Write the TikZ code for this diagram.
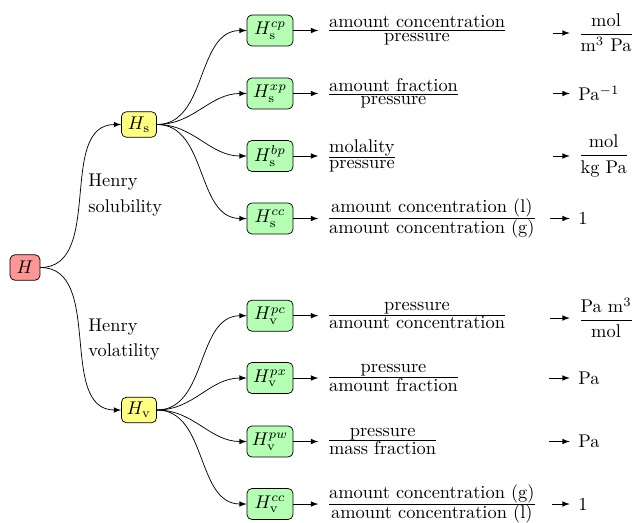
\documentclass[tikz,border=0pt]{standalone}
\usetikzlibrary{arrows}
\definecolor{hred}{RGB}{255,150,150}
\definecolor{hyel}{RGB}{255,255,130}
\definecolor{hgrn}{RGB}{180,255,180}
\tikzset{
  box/.style={draw, rounded corners=2.6pt, inner sep=2.5pt},
  rootbox/.style={box, fill=hred, minimum width=16.3pt, minimum height=13.8pt},
  midbox/.style={box, fill=hyel, minimum width=19pt, minimum height=13.8pt},
  leafbox/.style={box, fill=hgrn, minimum width=25pt, minimum height=16.8pt},
  frac/.style={anchor=west, inner sep=3pt},
  unit/.style={anchor=west, inner sep=0pt},
  lab/.style={anchor=west, align=left, inner sep=0pt},
  conn/.style={-latex, out=0, in=180},
  arr/.style={-latex},
}
\newcommand{\fr}[2]{$\frac{\mbox{#1}}{\mbox{#2}}$}
\newcommand{\dfr}[2]{$\displaystyle\frac{\mbox{#1}}{\mbox{#2}}$}
\begin{document}
\begin{tikzpicture}[x=0.5435pt, y=-0.5435pt]
\useasboundingbox (0,0) rectangle (633,522);
% main nodes
\node[rootbox] (H) at (25,267.5) {$H$};
\node[midbox] (Hs) at (139,124.5) {$H_{\mathrm{s}}$};
\node[midbox] (Hv) at (139,410) {$H_{\mathrm{v}}$};
\node[lab] (ls) at (88,195) {Henry\\[1.8pt]solubility};
\node[lab] (lv) at (88,339.5) {Henry\\[1.8pt]volatility};
% leaves
\node[leafbox] (s1) at (270,30.5) {$H_{\mathrm{s}}^{cp}$};
\node[leafbox] (s2) at (270,93.5) {$H_{\mathrm{s}}^{xp}$};
\node[leafbox] (s3) at (270,156) {$H_{\mathrm{s}}^{bp}$};
\node[leafbox] (s4) at (270,218.5) {$H_{\mathrm{s}}^{cc}$};
\node[leafbox] (v1) at (270,315.7) {$H_{\mathrm{v}}^{pc}$};
\node[leafbox] (v2) at (270,378) {$H_{\mathrm{v}}^{px}$};
\node[leafbox] (v3) at (270,441.5) {$H_{\mathrm{v}}^{pw}$};
\node[leafbox] (v4) at (270,504) {$H_{\mathrm{v}}^{cc}$};
% fractions
\node[frac] (f1) at (321,30.5) {\fr{amount concentration}{pressure}};
\node[frac] (f2) at (321,93.5) {\fr{amount fraction}{pressure}};
\node[frac] (f3) at (321,156) {\fr{molality}{pressure}};
\node[frac] (f4) at (321,218.5) {\fr{amount concentration (l)}{amount concentration (g)}};
\node[frac] (f5) at (321,315.7) {\fr{pressure}{amount concentration}};
\node[frac] (f6) at (321,378) {\fr{pressure}{amount fraction}};
\node[frac] (f7) at (321,441.5) {\fr{pressure}{mass fraction}};
\node[frac] (f8) at (321,504) {\fr{amount concentration (g)}{amount concentration (l)}};
% units
\node[unit] (u1) at (578,33) {\dfr{mol}{m$^3$ Pa}};
\node[unit] (u2) at (578,93.5) {Pa$^{-1}$};
\node[unit] (u3) at (578,156) {\dfr{mol}{kg Pa}};
\node[unit] (u4) at (578,218.5) {1};
\node[unit] (u5) at (578,318) {\dfr{Pa m$^3$}{mol}};
\node[unit] (u6) at (578,378) {Pa};
\node[unit] (u7) at (578,441.5) {Pa};
\node[unit] (u8) at (578,504) {1};
% arrow starts
\foreach \i/\x in {1/553,2/553,3/553,4/550,5/550,6/549,7/549,8/552}{
  \coordinate (a\i) at (\x,0 |- u\i.west);
}
% tree connectors
\draw[conn] (H.east) to (Hs.west);
\draw[conn] (H.east) to (Hv.west);
\foreach \n in {s1,s2,s3,s4} \draw[conn] (Hs.east) to (\n.west);
\foreach \n in {v1,v2,v3,v4} \draw[conn] (Hv.east) to (\n.west);
% leaf to fraction
\foreach \i/\n in {1/s1,2/s2,3/s3,4/s4,5/v1,6/v2,7/v3,8/v4}{
  \draw[arr, shorten >=1.5pt] (\n.east) -- (f\i.west);
  \draw[arr] (a\i) -- ([xshift=-4.5pt]u\i.west);
}
\end{tikzpicture}
\end{document}
